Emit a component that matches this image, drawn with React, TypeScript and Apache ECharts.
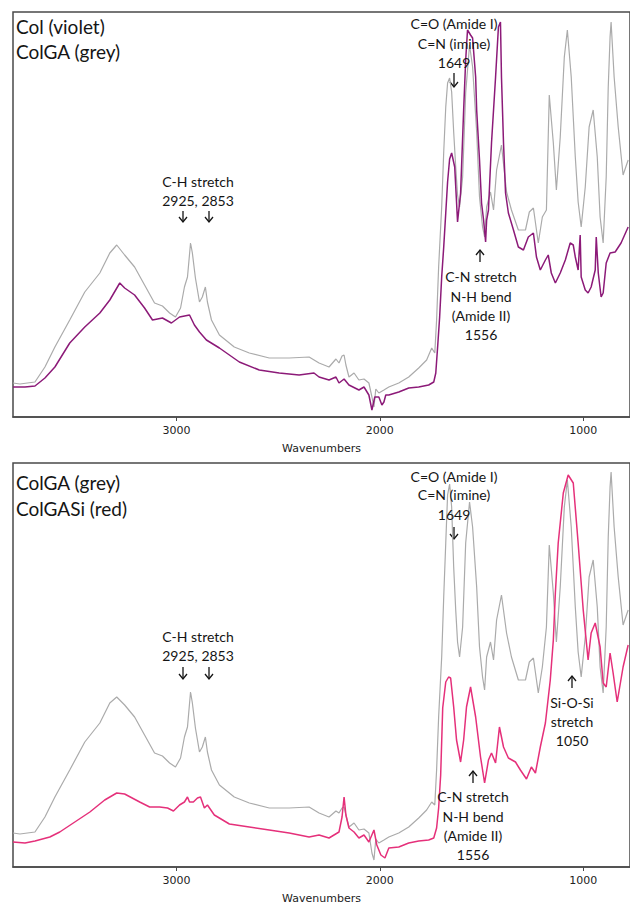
import React, { useEffect, useRef } from "react";
import * as echarts from "echarts";

// ColGA (grey) — wavenumbers shared by both panels
const colgaWn = [3804,3770,3696,3647,3598,3525,3451,3377,3328,3294,3255,3206,3157,3108,3069,3034,3005,2980,2961,2946,2931,2922,2907,2887,2873,2858,2848,2828,2789,2716,2642,2544,2446,2348,2299,2250,2216,2201,2186,2176,2167,2152,2127,2103,2078,2054,2039,2029,2020,2005,1980,1956,1907,1858,1809,1770,1745,1730,1721,1711,1696,1686,1676,1667,1657,1647,1637,1627,1618,1608,1593,1578,1559,1544,1524,1510,1495,1485,1475,1456,1441,1426,1402,1377,1353,1319,1284,1265,1245,1221,1201,1181,1167,1147,1132,1113,1093,1078,1059,1039,1025,1010,990,971,951,931,917,902,887,877,868,863,848,828,804,779];
// ColGA as drawn in the top panel
const colgaTopAbs = [34,33,35,50,70,97,125,144,164,172,162,150,132,114,111,104,100,109,130,140,174,164,139,115,120,130,115,97,82,70,64,59,59,60,54,50,58,54,61,62,52,40,44,37,38,34,20,10,28,24,27,30,34,40,49,57,69,64,97,150,210,265,310,334,339,325,285,250,222,210,240,324,372,350,285,220,190,180,210,225,207,247,272,225,207,187,187,205,209,174,200,207,322,274,227,280,360,387,340,260,215,190,230,290,307,260,200,174,240,330,380,395,340,290,242,257];
// ColGA as drawn in the bottom panel
const colgaBottomAbs = [34,33,35,50,70,97,125,144,164,170,162,150,132,114,111,104,100,109,130,140,175,164,139,115,120,130,115,97,82,70,64,59,59,60,54,50,56,54,59,60,52,40,44,37,38,34,14,7,28,24,27,30,34,40,49,57,65,62,97,150,210,270,324,372,383,360,300,257,225,210,240,324,365,340,280,220,190,177,210,225,207,247,272,234,210,187,187,205,209,174,200,240,322,274,225,280,360,387,340,260,215,190,230,290,307,260,200,174,240,330,380,395,340,290,242,257];

// Col (violet)
const colWn = [3804,3745,3696,3647,3598,3525,3451,3377,3328,3279,3255,3206,3157,3118,3069,3025,2985,2936,2912,2887,2853,2789,2691,2593,2495,2397,2324,2299,2250,2216,2201,2176,2152,2103,2078,2054,2039,2025,2005,1990,1980,1971,1956,1907,1858,1809,1760,1735,1725,1716,1706,1696,1686,1676,1667,1657,1647,1632,1623,1618,1603,1588,1578,1569,1554,1544,1529,1524,1510,1500,1490,1480,1475,1466,1451,1431,1417,1407,1402,1392,1382,1368,1343,1319,1294,1270,1245,1230,1211,1186,1172,1157,1137,1113,1088,1064,1049,1039,1025,1015,1010,990,976,961,941,936,926,912,902,887,868,843,814,779];
const colAbs = [30,30,31,39,50,74,90,104,117,134,129,122,109,97,99,94,100,102,92,85,77,69,55,47,44,42,44,40,37,40,34,38,32,27,30,22,7,20,20,12,15,22,22,25,29,30,32,35,44,70,100,140,170,204,235,258,264,250,215,195,224,307,357,387,382,379,340,307,257,214,197,175,197,207,274,340,390,395,340,274,224,204,187,170,167,180,184,160,147,157,162,144,134,144,157,174,172,160,147,182,140,127,124,130,147,180,144,120,124,154,164,165,174,190];

// ColGASi (red)
const colgasiWn = [3804,3745,3696,3623,3574,3500,3426,3353,3294,3255,3181,3132,3083,3044,3015,2985,2961,2946,2936,2917,2897,2882,2863,2848,2814,2740,2642,2544,2446,2348,2299,2250,2201,2186,2176,2167,2152,2127,2103,2078,2054,2029,2015,1995,1975,1956,1907,1858,1809,1760,1735,1721,1711,1701,1691,1676,1662,1652,1637,1623,1603,1588,1574,1554,1529,1505,1485,1466,1451,1431,1412,1392,1368,1333,1309,1279,1255,1235,1211,1186,1162,1147,1137,1123,1098,1074,1049,1025,1000,976,961,941,917,902,887,868,853,833,804,779];
const colgasiAbs = [25,24,26,30,35,45,55,67,74,73,65,60,60,59,56,62,65,70,65,65,69,70,59,62,52,43,40,37,34,30,32,29,35,50,70,52,39,35,29,32,25,37,22,12,9,19,20,24,26,27,29,39,59,92,159,185,190,189,160,127,105,127,160,180,150,110,84,107,114,104,140,120,109,105,97,88,100,94,120,144,187,227,274,324,374,392,384,324,257,207,234,244,220,184,180,214,194,165,200,222];

const tickValues = [3000, 2000, 1000];
const axisName = "Wavenumbers";
const panelLabels = [["Col (violet)", "ColGA (grey)"], ["ColGA (grey)", "ColGASi (red)"]];

const GREY = "#ababab";
const VIOLET = "#8c1a78";
const RED = "#e5307a";
const TXT = "#151515";

function pairs(wn: number[], ab: number[]) {
  return wn.map((w, i) => [w, ab[i]]);
}

function txt(s: string, x: number, y: number, size: number, align = "center") {
  return {
    type: "text",
    x,
    y,
    z: 10,
    style: {
      text: s,
      fill: TXT,
      font: `${size}px Lato, "Open Sans", sans-serif`,
      textAlign: align,
      textVerticalAlign: "middle",
    },
  };
}

function arrow(x: number, y1: number, y2: number, up: boolean) {
  const head = up
    ? [[x - 4, y1 + 5], [x, y1], [x + 4, y1 + 5]]
    : [[x - 4, y2 - 5], [x, y2], [x + 4, y2 - 5]];
  return {
    type: "group",
    z: 10,
    children: [
      { type: "line", shape: { x1: x, y1, x2: x, y2 }, style: { stroke: TXT, lineWidth: 1.3 } },
      { type: "polyline", shape: { points: head }, style: { stroke: TXT, lineWidth: 1.3, fill: "none" } },
    ],
  };
}

export default function App() {
  const ref = useRef<HTMLDivElement>(null);
  useEffect(() => {
    if (!ref.current) return;
    const chart = echarts.init(ref.current, null, { renderer: "svg" });
    const xAxisBase = (i: number) => ({
      gridIndex: i,
      type: "value",
      inverse: true,
      min: 770,
      max: 3804,
      splitLine: { show: false },
      axisLine: { lineStyle: { color: "#4a4a4a", width: 1.5 } },
      axisTick: { customValues: tickValues, length: 4, lineStyle: { color: "#4a4a4a", width: 1 } },
      axisLabel: {
        customValues: tickValues,
        formatter: (v: number) => String(v),
        fontSize: 11,
        fontFamily: "DejaVu Sans",
        color: "#222",
        margin: 8,
      },
      name: axisName,
      nameLocation: "middle",
      nameGap: 26,
      nameTextStyle: { fontSize: 11, fontFamily: "DejaVu Sans", color: "#222" },
    });
    const F = 14;
    const graphics: any[] = [
      txt(panelLabels[0][0], 16, 26, 19, "left"),
      txt(panelLabels[0][1], 16, 51, 19, "left"),
      txt("C-H stretch", 198, 181, F),
      txt("2925, 2853", 198, 200, F),
      arrow(183, 211, 222, false),
      arrow(209, 211, 222, false),
      txt("C=O (Amide I)", 454, 23, F),
      txt("C=N (imine)", 454, 43, F),
      txt("1649", 454, 62, F),
      arrow(454, 73, 87, false),
      arrow(480, 250, 262, true),
      txt("C-N stretch", 481, 276, F),
      txt("N-H bend", 481, 296, F),
      txt("(Amide II)", 481, 315, F),
      txt("1556", 481, 334, F),

      txt(panelLabels[1][0], 16, 482, 19, "left"),
      txt(panelLabels[1][1], 16, 508, 19, "left"),
      txt("C-H stretch", 198, 636, F),
      txt("2925, 2853", 198, 655, F),
      arrow(183, 667, 679, false),
      arrow(209, 667, 679, false),
      txt("C=O (Amide I)", 454, 476, F),
      txt("C=N (imine)", 454, 494, F),
      txt("1649", 454, 514, F),
      arrow(454, 527, 539, false),
      arrow(572, 676, 688, true),
      txt("Si-O-Si", 572, 702, F),
      txt("stretch", 572, 721, F),
      txt("1050", 572, 740, F),
      arrow(473, 771, 783, true),
      txt("C-N stretch", 473, 796, F),
      txt("N-H bend", 473, 816, F),
      txt("(Amide II)", 473, 835, F),
      txt("1556", 473, 854, F),
    ];
    const option: any = {
      animation: false,
      grid: [
        { left: 13, top: 12, width: 619, height: 405, show: true, borderColor: "#4a4a4a", borderWidth: 1.5 },
        { left: 13, top: 463, width: 619, height: 404, show: true, borderColor: "#4a4a4a", borderWidth: 1.5 },
      ],
      xAxis: [xAxisBase(0), xAxisBase(1)],
      yAxis: [
        { gridIndex: 0, type: "value", min: 0, max: 405, show: false },
        { gridIndex: 1, type: "value", min: 0, max: 404, show: false },
      ],
      series: [
        { name: "ColGA", type: "line", xAxisIndex: 0, yAxisIndex: 0, data: pairs(colgaWn, colgaTopAbs), showSymbol: false, lineStyle: { color: GREY, width: 1.2 }, z: 2 },
        { name: "Col", type: "line", xAxisIndex: 0, yAxisIndex: 0, data: pairs(colWn, colAbs), showSymbol: false, lineStyle: { color: VIOLET, width: 1.5 }, z: 3 },
        { name: "ColGA ", type: "line", xAxisIndex: 1, yAxisIndex: 1, data: pairs(colgaWn, colgaBottomAbs), showSymbol: false, lineStyle: { color: GREY, width: 1.2 }, z: 2 },
        { name: "ColGASi", type: "line", xAxisIndex: 1, yAxisIndex: 1, data: pairs(colgasiWn, colgasiAbs), showSymbol: false, lineStyle: { color: RED, width: 1.5 }, z: 3 },
      ],
      graphic: graphics,
    };
    chart.setOption(option);
    return () => chart.dispose();
  }, []);
  return (
    <div
      ref={ref}
      style={{ position: "fixed", left: 0, top: 0, width: 630, height: 905, background: "#fff" }}
    />
  );
}
